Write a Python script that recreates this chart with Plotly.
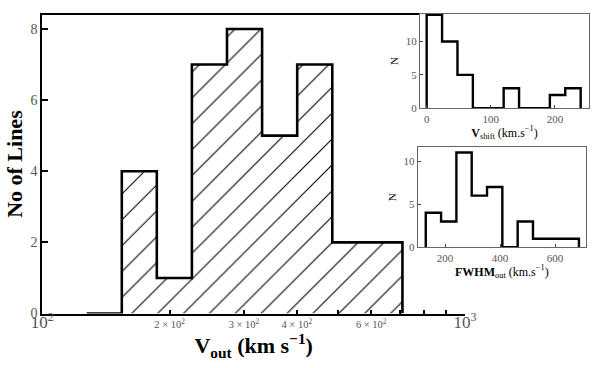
import plotly.graph_objects as go

# ---------------- data ----------------
# main histogram: log-spaced bins of V_out (km/s)
vout_edges = [127.4, 154.2, 186.6, 225.9, 273.5, 331.1, 400.9, 485.3, 587.5, 711.2]
vout_counts = [0, 4, 1, 7, 8, 5, 7, 2, 2]

# inset 1: V_shift
vshift_edges = [0, 24, 48, 72, 96, 120, 144, 168, 192, 216, 240]
vshift_counts = [14, 10, 5, 0, 0, 3, 0, 0, 2, 3]

# inset 2: FWHM_out
fwhm_edges = [130, 185.7, 241.4, 297.1, 352.8, 408.5, 464.2, 519.9, 575.6, 631.3, 687]
fwhm_counts = [4, 3, 11, 6, 7, 0, 3, 1, 1, 1]

# main x tick labels
main_tickvals = [100, 200, 300, 400, 500, 600, 700, 800, 900, 1000]
main_ticktext = ['<span style="font-size:17px">10<sup>2</sup></span>',
                 '2 × 10<sup>2</sup>', '3 × 10<sup>2</sup>', '4 × 10<sup>2</sup>', '',
                 '6 × 10<sup>2</sup>', '', '', '',
                 '<span style="font-size:17px">10<sup>3</sup></span>']

W, H = 598, 368
FONT = "Liberation Serif"


def dom_x(a, b):
    return [a / W, b / W]


def dom_y(top, bottom):
    return [1 - bottom / H, 1 - top / H]


fig = go.Figure()

# main hatched step histogram
fig.add_trace(go.Scatter(
    x=vout_edges, y=vout_counts + [0], mode="lines",
    line=dict(shape="hv", color="black", width=2.6),
    fill="tozeroy", fillcolor="white",
    fillpattern=dict(shape="/", fgcolor="black", bgcolor="white", fgopacity=1,
                     fillmode="replace", size=18.3, solidity=0.06),
    xaxis="x", yaxis="y", showlegend=False, hoverinfo="skip"))

# inset 1
fig.add_trace(go.Scatter(
    x=[vshift_edges[0]] + vshift_edges, y=[0] + vshift_counts + [0], mode="lines",
    line=dict(shape="hv", color="black", width=2.4),
    xaxis="x2", yaxis="y2", showlegend=False, hoverinfo="skip"))

# inset 2
fig.add_trace(go.Scatter(
    x=[fwhm_edges[0]] + fwhm_edges, y=[0] + fwhm_counts + [0], mode="lines",
    line=dict(shape="hv", color="black", width=2.4),
    xaxis="x3", yaxis="y3", showlegend=False, hoverinfo="skip"))

tick_gray = "#555555"
inset_axis = dict(showgrid=False, zeroline=False, showline=True, linecolor="#666666", linewidth=1,
                  mirror=True, ticks="inside", ticklen=3, tickwidth=1, tickcolor="#444444",
                  automargin=False,
                  tickfont=dict(family=FONT, size=11, color=tick_gray))

fig.update_layout(
    width=W, height=H, margin=dict(l=0, r=0, t=0, b=0, autoexpand=False),
    paper_bgcolor="white", plot_bgcolor="white",
    font=dict(family=FONT, color="black"),
    xaxis=dict(type="log", range=[2, 3], domain=dom_x(42.3, 465), automargin=False,
               showgrid=False, zeroline=False, showline=True, linecolor="black", linewidth=2,
               mirror=True, ticks="inside", ticklen=4, tickwidth=2, tickcolor="black",
               tickmode="array", tickvals=main_tickvals, ticktext=main_ticktext,
               tickfont=dict(family=FONT, size=10.5, color=tick_gray),
               title=dict(text="<b>V<sub>out</sub> (km s<sup>−1</sup>)</b>",
                          font=dict(family=FONT, size=22, color="black"), standoff=0),
               anchor="y"),
    yaxis=dict(range=[0, 8.4], domain=dom_y(14.7, 313.5), automargin=False,
               showgrid=False, zeroline=False, showline=True, linecolor="black", linewidth=2,
               ticks="inside", ticklen=6, tickwidth=2, tickcolor="black",
               tickvals=[0, 2, 4, 6, 8],
               tickfont=dict(family=FONT, size=14, color=tick_gray),
               title=dict(text="<b>No of Lines</b>", font=dict(family=FONT, size=22, color="black"),
                          standoff=2),
               anchor="x"),
    xaxis2=dict(inset_axis, range=[-10.4, 253], domain=dom_x(420, 589), anchor="y2",
                tickvals=[0, 100, 200],
                title=dict(text="<b>V</b><sub>shift</sub> (km.s<sup>−1</sup>)",
                           font=dict(family=FONT, size=12, color="black"), standoff=2)),
    yaxis2=dict(inset_axis, range=[0, 14.2], domain=dom_y(13.5, 108.3), anchor="x2",
                tickvals=[0, 5, 10],
                title=dict(text="N", font=dict(family=FONT, size=11, color="black"), standoff=4)),
    xaxis3=dict(inset_axis, range=[100.7, 712.7], domain=dom_x(417.7, 586), anchor="y3",
                tickvals=[200, 400, 600],
                title=dict(text="<b>FWHM</b><sub>out</sub> (km.s<sup>−1</sup>)",
                           font=dict(family=FONT, size=12, color="black"), standoff=2)),
    yaxis3=dict(inset_axis, range=[0, 11.6], domain=dom_y(147.3, 247.3), anchor="x3",
                tickvals=[0, 5, 10],
                title=dict(text="N", font=dict(family=FONT, size=11, color="black"), standoff=4)),
)

fig.write_html("out.html", config={"displayModeBar": False},
               post_script="document.body.style.margin='0px';")
